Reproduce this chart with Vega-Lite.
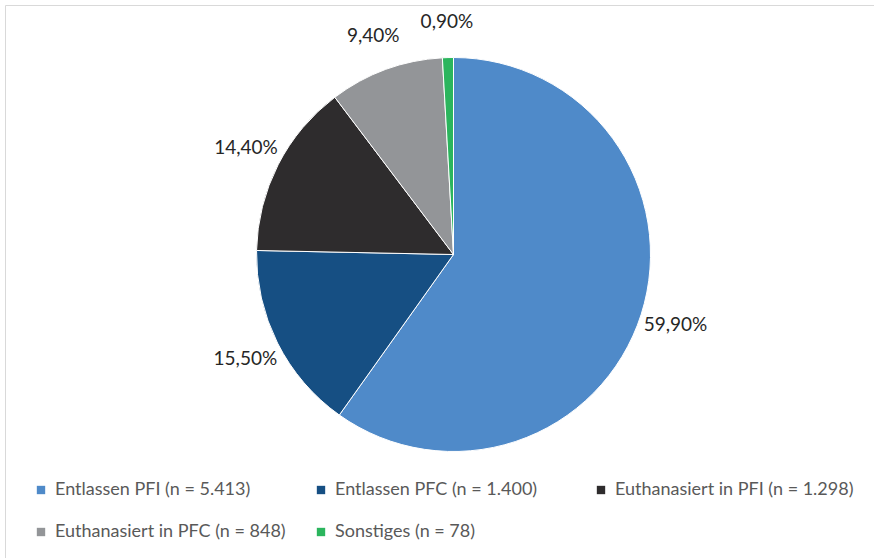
{
  "$schema": "https://vega.github.io/schema/vega-lite/v6.json",
  "width": 869,
  "height": 553,
  "autosize": "none",
  "padding": {"left": 5, "top": 5, "right": 0, "bottom": 0},
  "background": "white",
  "view": {"stroke": "#d9d9d9", "strokeWidth": 1, "fill": "white"},
  "data": {
    "values": [
      {"kategorie": "Entlassen PFI (n = 5.413)", "anteil": 59.9, "label": "59,90%", "ord": 1},
      {"kategorie": "Entlassen PFC (n = 1.400)", "anteil": 15.5, "label": "15,50%", "ord": 2},
      {"kategorie": "Euthanasiert in PFI (n = 1.298)", "anteil": 14.4, "label": "14,40%", "ord": 3},
      {"kategorie": "Euthanasiert in PFC (n = 848)", "anteil": 9.4, "label": "9,40%", "ord": 4},
      {"kategorie": "Sonstiges (n = 78)", "anteil": 0.9, "label": "0,90%", "ord": 5}
    ]
  },
  "encoding": {
    "theta": {"field": "anteil", "type": "quantitative", "stack": true},
    "order": {"field": "ord", "type": "quantitative", "sort": "ascending"}
  },
  "layer": [
    {
      "mark": {"type": "arc", "outerRadius": 197, "stroke": "white", "strokeWidth": 1,
               "x": {"expr": "width/2+14"}, "y": {"expr": "height/2-27"}},
      "encoding": {
        "color": {
          "field": "kategorie", "type": "nominal",
          "sort": {"field": "ord"},
          "scale": {
            "domain": ["Entlassen PFI (n = 5.413)", "Entlassen PFC (n = 1.400)", "Euthanasiert in PFI (n = 1.298)", "Euthanasiert in PFC (n = 848)", "Sonstiges (n = 78)"],
            "range": ["#4f8ac9", "#164f83", "#2e2c2d", "#939598", "#2bb55d"]
          },
          "legend": {
            "title": null,
            "orient": "none",
            "legendX": 27,
            "legendY": 476,
            "direction": "horizontal",
            "columns": 3,
            "gridAlign": "all",
            "columnPadding": 18,
            "rowPadding": 24,
            "symbolType": "square",
            "symbolSize": 70,
            "symbolStrokeWidth": 0,
            "labelFont": "Lato",
            "labelFontSize": 18,
            "labelColor": "#595959",
            "labelOffset": 5,
            "labelLimit": 400
          }
        }
      }
    },
    {
      "mark": {"type": "text", "radius": 233, "font": "Lato", "fontSize": 19, "color": "#262626",
               "align": "center", "baseline": "middle",
               "x": {"expr": "width/2+14"}, "y": {"expr": "height/2-27"}},
      "encoding": {
        "text": {"field": "label", "type": "nominal"}
      }
    }
  ]
}
